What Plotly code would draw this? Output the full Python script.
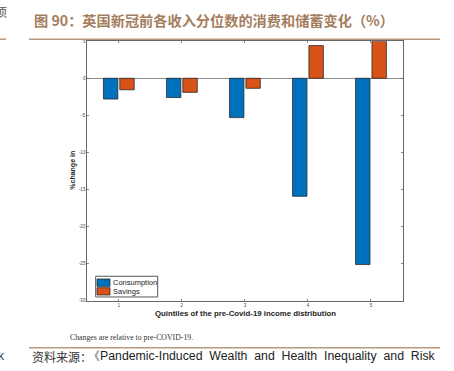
import plotly.graph_objects as go

quintiles = [1, 2, 3, 4, 5]
consumption = [-2.8, -2.6, -5.3, -15.9, -25.1]
savings = [-1.55, -1.9, -1.35, 4.4, 5.0]
series_names = ["Consumption", "Savings"]
y_ticks = [5, 0, -5, -10, -15, -20, -25, -30]

W, H = 454, 371
def px(x):
    return x / W
def py(y):
    return 1 - y / H

BLUE = "#0072BD"
ORANGE = "#D95319"
BROWN = "#a47d5e"
EDGE = "#2a2a2a"

fig = go.Figure()
fig.add_trace(go.Bar(x=quintiles, y=consumption, name=series_names[0],
                     marker=dict(color=BLUE, line=dict(color=EDGE, width=0.8))))
fig.add_trace(go.Bar(x=quintiles, y=savings, name=series_names[1],
                     marker=dict(color=ORANGE, line=dict(color=EDGE, width=0.8))))

fig.update_layout(
    width=W, height=H,
    margin=dict(l=0, r=0, t=0, b=0),
    paper_bgcolor="white", plot_bgcolor="white",
    barmode="group", bargap=0.48, bargroupgap=0.12,
    showlegend=False,
    font=dict(family="Liberation Sans, Arial"),
)

fig.update_xaxes(domain=[px(87.3), px(402.5)], range=[0.5, 5.5],
                 tickvals=quintiles, ticktext=[str(q) for q in quintiles],
                 ticks="inside", ticklen=2, tickcolor="#555", tickwidth=0.7,
                 showline=True, linecolor="#666", linewidth=1, mirror="ticks",
                 showgrid=False, zeroline=False,
                 tickfont=dict(size=4.5, color="#444"))
fig.update_yaxes(domain=[py(303), py(39.7)], range=[-30, 5],
                 tickvals=y_ticks, ticktext=[str(t) for t in y_ticks],
                 ticks="inside", ticklen=2, tickcolor="#555", tickwidth=0.7,
                 showline=True, linecolor="#666", linewidth=1, mirror="ticks",
                 showgrid=False, zeroline=True, zerolinecolor="#8a8a8a", zerolinewidth=1,
                 tickfont=dict(size=4.5, color="#444"))

ann = []
# title
ann.append(dict(text="<b>图 90：英国新冠前各收入分位数的消费和储蓄变化（%）</b>",
                x=px(32), y=py(18), xref="paper", yref="paper",
                xanchor="left", yanchor="middle", showarrow=False,
                font=dict(family="Noto Sans CJK SC", size=14.2, color=BROWN)))
# axis titles
ann.append(dict(text="<b>%change in</b>", x=px(73), y=py(171), xref="paper", yref="paper",
                xanchor="center", yanchor="middle", showarrow=False, textangle=-90,
                font=dict(family="Liberation Sans, Arial", size=7, color="#222")))
ann.append(dict(text="<b>Quintiles of the pre-Covid-19 income distribution</b>",
                x=px(245), y=py(316), xref="paper", yref="paper",
                xanchor="center", yanchor="middle", showarrow=False,
                font=dict(family="Liberation Sans, Arial", size=7.8, color="#222")))
# legend (manual)
legend_rows = [(284.5, BLUE), (293.3, ORANGE)]
for name, (yc, col) in zip(series_names, legend_rows):
    ann.append(dict(text=name, x=px(110.5), y=py(yc), xref="paper", yref="paper",
                    xanchor="left", yanchor="middle", showarrow=False,
                    font=dict(family="Liberation Sans, Arial", size=7.5, color="#222")))
# caption
ann.append(dict(text="Changes are relative to pre-COVID-19.",
                x=px(68), y=py(340), xref="paper", yref="paper",
                xanchor="left", yanchor="middle", showarrow=False,
                font=dict(family="Liberation Serif, DejaVu Serif", size=7.8, color="#333")))
# source
ann.append(dict(text="资料来源：",
                x=px(30), y=py(359), xref="paper", yref="paper",
                xanchor="left", yanchor="middle", showarrow=False,
                font=dict(family="Noto Sans CJK SC", size=12, color="#333")))
ann.append(dict(text="《Pandemic-Induced\u00a0 Wealth\u00a0 and\u00a0 Health\u00a0 Inequality\u00a0 and\u00a0 Risk",
                x=px(438), y=py(359), xref="paper", yref="paper",
                xanchor="right", yanchor="middle", showarrow=False,
                font=dict(family="Liberation Sans, Arial", size=12.3, color="#222")))
# edge fragments
ann.append(dict(text="项", x=px(9), y=py(10), xref="paper", yref="paper",
                xanchor="right", yanchor="middle", showarrow=False,
                font=dict(family="Noto Sans CJK SC", size=12, color="#555")))
ann.append(dict(text="k", x=px(7), y=py(359), xref="paper", yref="paper",
                xanchor="right", yanchor="middle", showarrow=False,
                font=dict(family="Liberation Sans, Arial", size=12, color="#333")))
fig.update_layout(annotations=ann)

shapes = [
    dict(type="line", xref="paper", yref="paper", x0=px(29), x1=px(440), y0=py(37.7), y1=py(37.7),
         line=dict(color="#b8997f", width=1.5)),
    dict(type="line", xref="paper", yref="paper", x0=px(0), x1=px(6), y0=py(37.7), y1=py(37.7),
         line=dict(color="#b8997f", width=1.5)),
    dict(type="line", xref="paper", yref="paper", x0=px(29), x1=px(440), y0=py(350.5), y1=py(350.5),
         line=dict(color="#b8997f", width=1.5)),
    # legend box
    dict(type="rect", xref="paper", yref="paper", x0=px(95.7), x1=px(157.7), y0=py(299), y1=py(278),
         line=dict(color="#555", width=1), fillcolor="white"),
]
for (yc, col) in legend_rows:
    shapes.append(dict(type="rect", xref="paper", yref="paper",
                       x0=px(97), x1=px(110), y0=py(yc + 3.7), y1=py(yc - 3.7),
                       line=dict(color=EDGE, width=0.8), fillcolor=col))
fig.update_layout(shapes=shapes)

fig.write_html("out.html",
               config={"displayModeBar": False, "staticPlot": True},
               post_script="document.body.style.margin='0';document.body.style.padding='0';")
